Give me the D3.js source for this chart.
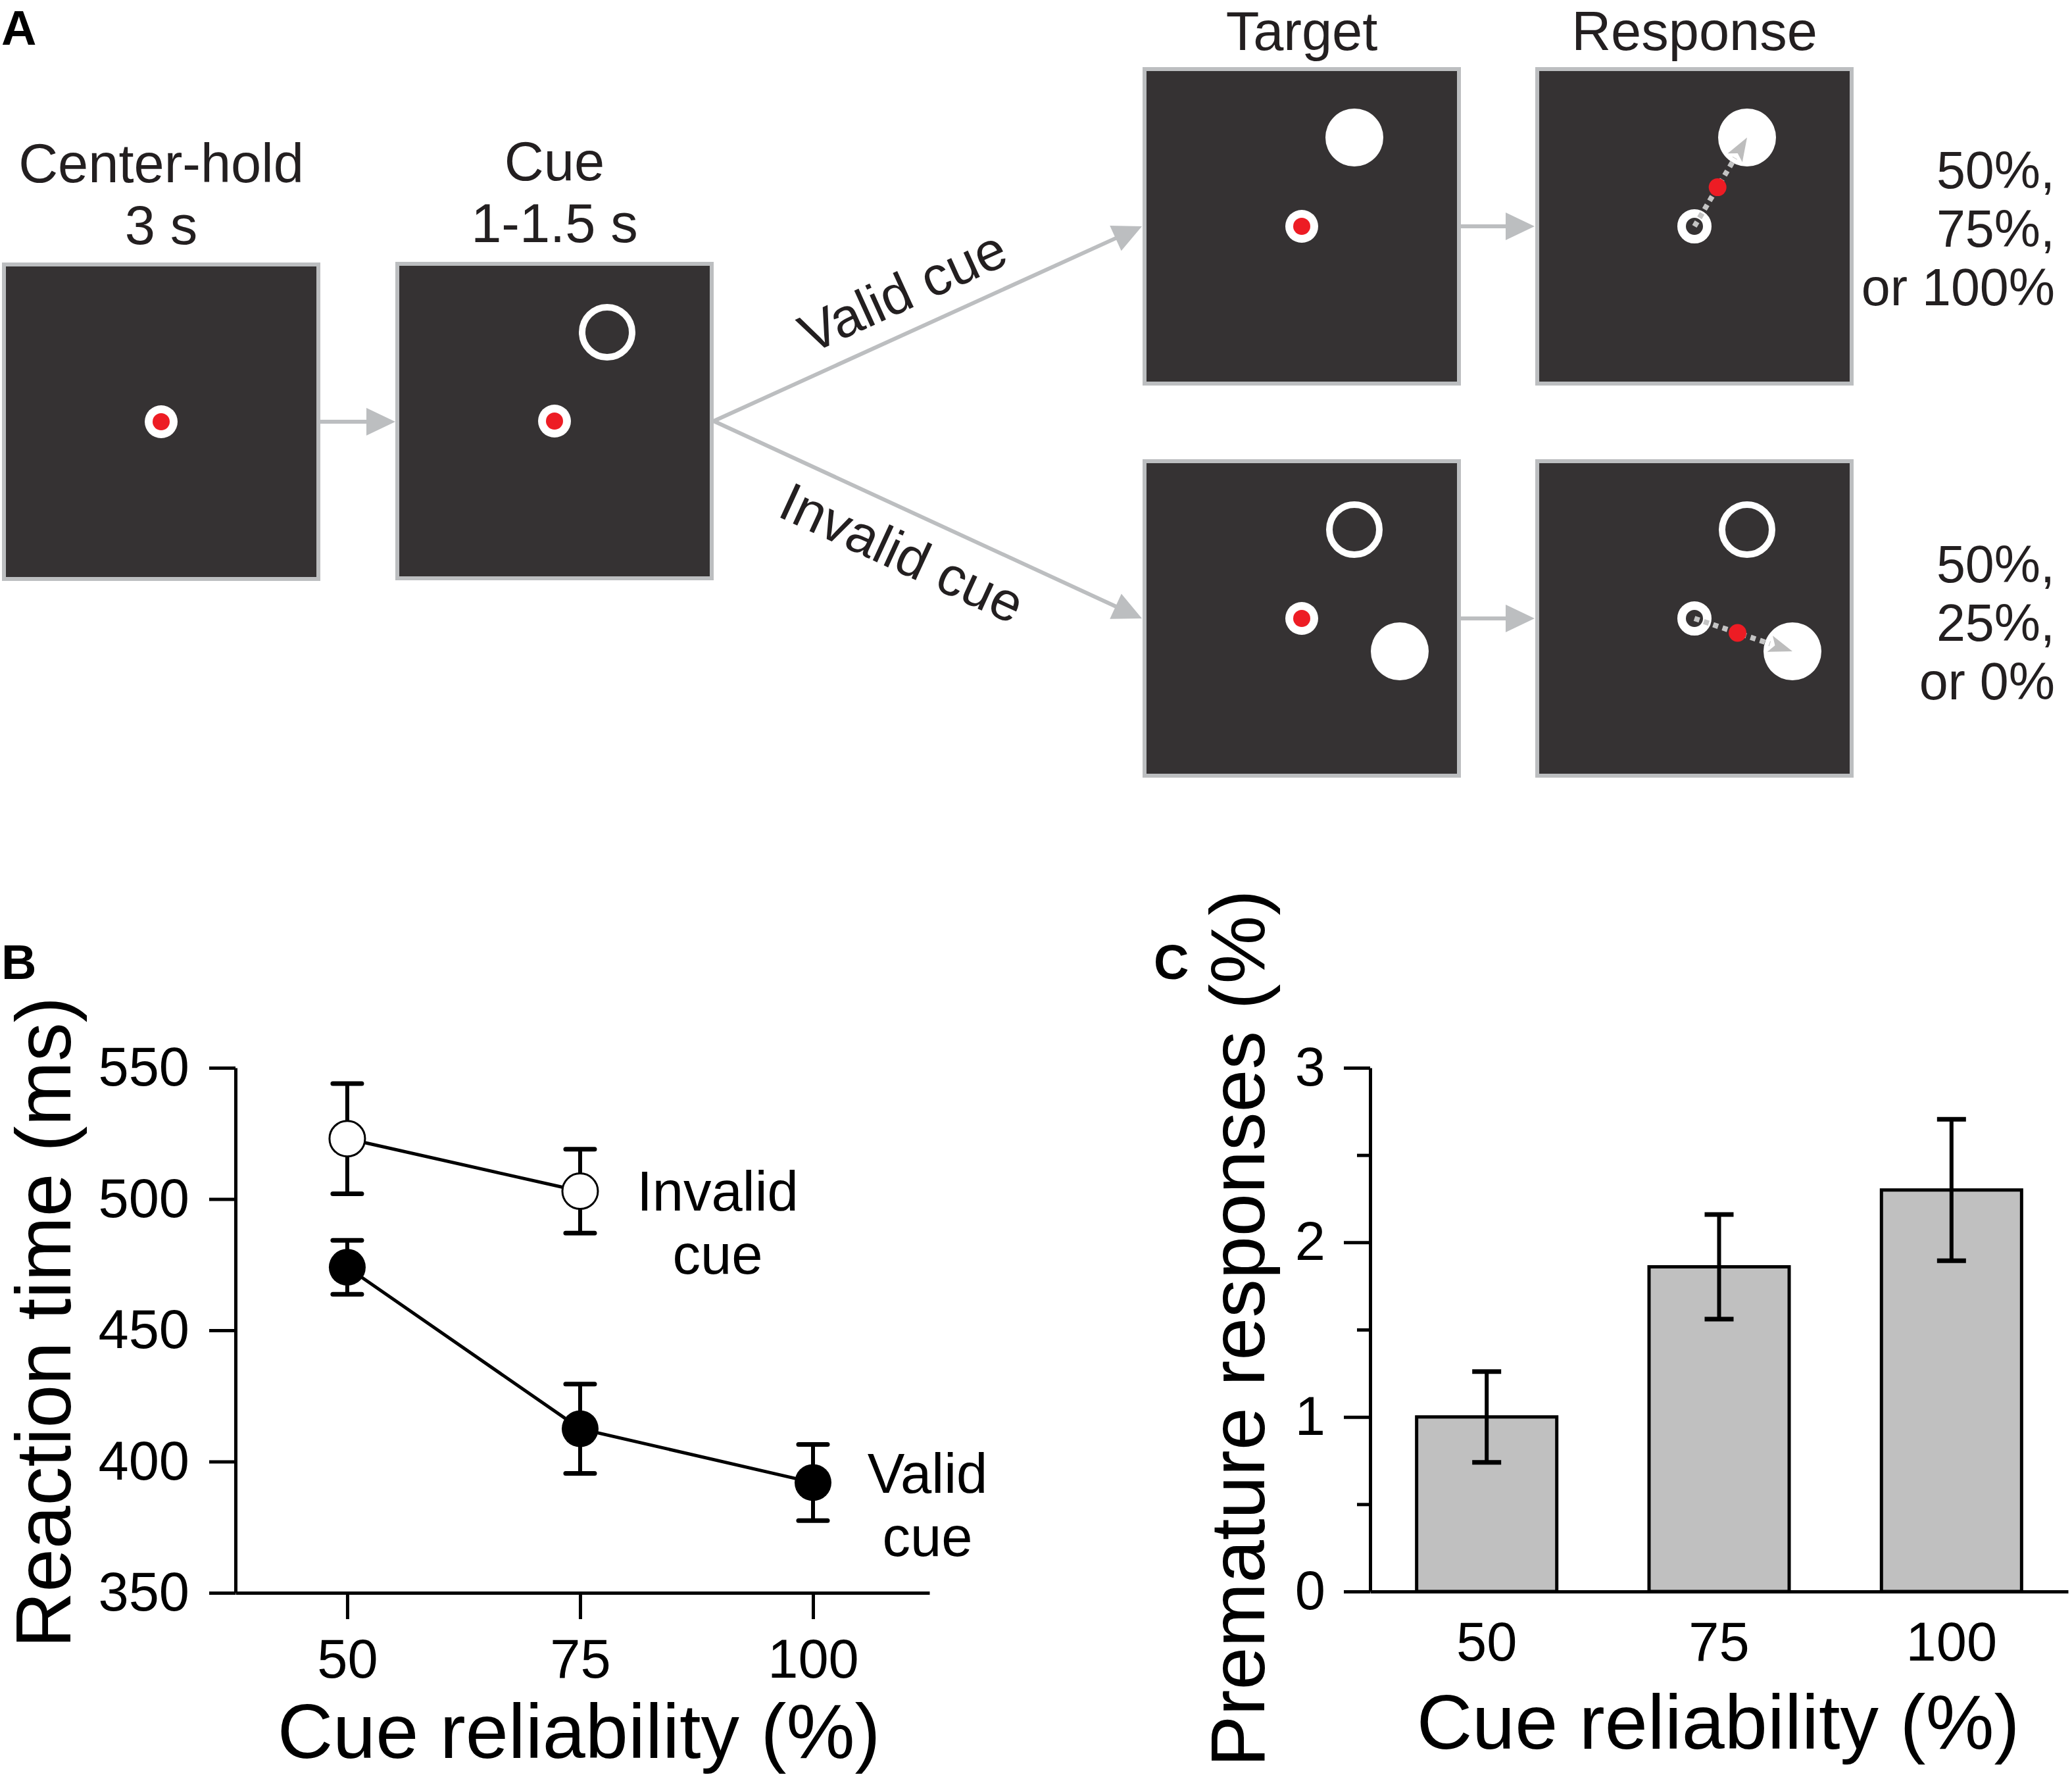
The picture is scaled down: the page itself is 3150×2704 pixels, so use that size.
<!DOCTYPE html>
<html>
<head>
<meta charset="utf-8">
<script src="https://cdn.jsdelivr.net/npm/d3@7"></script>
<style>
html,body{margin:0;padding:0;background:#fff;}
svg{display:block;}
</style>
</head>
<body>
<svg id="fig" width="3150" height="2704"></svg>
<script>
// ---------------- DATA ----------------
const reliability = [50, 75, 100];
const invalidRT = [523, 503];          // ms, invalid cue (50, 75)
const invalidErr = [21, 16];
const validRT = [474, 412.5, 392];     // ms, valid cue (50, 75, 100)
const validErr = [10.3, 17, 14.5];
const rtTicks = [350, 400, 450, 500, 550];
const prematureCats = ["50", "75", "100"];
const premature = [1.0, 1.86, 2.30];   // %
const prematureErr = [0.26, 0.30, 0.405];
const premTicks = [0, 1, 2, 3];
const premMinorTicks = [0.5, 1.5, 2.5];
const topProbs = ["50%,", "75%,", "or 100%"];
const botProbs = ["50%,", "25%,", "or 0%"];

// ---------------- STYLE ----------------
const FONT = "'Liberation Sans', Arial, Helvetica, sans-serif";
const TXT = "#231f20";
const SCREEN = "#353233";
const FRAME = "#bcbec0";
const RED = "#ed1c24";

const svg = d3.select("#fig");
svg.append("rect").attr("width", 3150).attr("height", 2704).attr("fill", "#fff");

// panel letters
[["A", 2, 68], ["B", 2, 1488], ["C", 1754, 1488]].forEach(([t, x, y]) => {
  svg.append("text").attr("x", x).attr("y", y).text(t)
    .attr("font-family", FONT).attr("font-weight", "bold").attr("font-size", 74).attr("fill", "#000");
});

// ================= PANEL A (task schematic) =================
const A = svg.append("g");
const S = 478;
const screens = [
  {id: "hold", x: 6, y: 402},
  {id: "cue", x: 604, y: 401},
  {id: "tv", x: 1740, y: 105},
  {id: "rv", x: 2337, y: 105},
  {id: "ti", x: 1740, y: 701},
  {id: "ri", x: 2337, y: 701}
];
const sc = {};
screens.forEach(s => { s.cx = s.x + S / 2; s.cy = s.y + S / 2; sc[s.id] = s; });

A.selectAll("rect.screen").data(screens).join("rect")
  .attr("x", d => d.x).attr("y", d => d.y).attr("width", S).attr("height", S)
  .attr("fill", SCREEN).attr("stroke", FRAME).attr("stroke-width", 6);

const cueOff = [80, -135];
const invOff = [149, 50];

function fixation(s) {
  A.append("circle").attr("cx", s.cx).attr("cy", s.cy).attr("r", 25).attr("fill", "#fff");
  A.append("circle").attr("cx", s.cx).attr("cy", s.cy).attr("r", 13).attr("fill", RED);
}
function ring(s, off) {
  A.append("circle").attr("cx", s.cx + off[0]).attr("cy", s.cy + off[1]).attr("r", 38)
    .attr("fill", "none").attr("stroke", "#fff").attr("stroke-width", 10);
}
function disk(s, off) {
  A.append("circle").attr("cx", s.cx + off[0]).attr("cy", s.cy + off[1]).attr("r", 44).attr("fill", "#fff");
}
function responseMove(s, off) {
  // empty fixation ring
  A.append("circle").attr("cx", s.cx).attr("cy", s.cy).attr("r", 19.5)
    .attr("fill", "none").attr("stroke", "#fff").attr("stroke-width", 13);
  const tx = s.cx + off[0], ty = s.cy + off[1];
  const ang = Math.atan2(off[1], off[0]);
  const ux = Math.cos(ang), uy = Math.sin(ang);
  const head = 36;
  A.append("line").attr("x1", s.cx).attr("y1", s.cy)
    .attr("x2", tx - ux * head).attr("y2", ty - uy * head)
    .attr("stroke", "#c4c4c4").attr("stroke-width", 8).attr("stroke-dasharray", "8 7");
  const bx = tx - ux * head, by = ty - uy * head, w = 13;
  A.append("path").attr("d", `M${tx},${ty}L${bx - uy * w},${by + ux * w}L${bx + ux * 8},${by + uy * 8}L${bx + uy * w},${by - ux * w}Z`)
    .attr("fill", "#bdbdbd");
  const t = 0.44;
  A.append("circle").attr("cx", s.cx + off[0] * t).attr("cy", s.cy + off[1] * t).attr("r", 13.5).attr("fill", RED);
}

fixation(sc.hold);
fixation(sc.cue); ring(sc.cue, cueOff);
fixation(sc.tv); disk(sc.tv, cueOff);
disk(sc.rv, cueOff); responseMove(sc.rv, cueOff);
fixation(sc.ti); ring(sc.ti, cueOff); disk(sc.ti, invOff);
ring(sc.ri, cueOff); disk(sc.ri, invOff); responseMove(sc.ri, invOff);

// arrows
function arrow(x1, y1, x2, y2) {
  const ang = Math.atan2(y2 - y1, x2 - x1);
  const ux = Math.cos(ang), uy = Math.sin(ang);
  const head = 44, w = 21;
  const bx = x2 - ux * head, by = y2 - uy * head;
  A.append("line").attr("x1", x1).attr("y1", y1).attr("x2", bx + ux * 2).attr("y2", by + uy * 2)
    .attr("stroke", FRAME).attr("stroke-width", 6);
  A.append("path").attr("d", `M${x2},${y2}L${bx - uy * w},${by + ux * w}L${bx + uy * w},${by - ux * w}Z`)
    .attr("fill", FRAME);
}
arrow(sc.hold.x + S + 3, sc.hold.cy, sc.cue.x - 3, sc.hold.cy);
arrow(sc.tv.x + S + 3, sc.tv.cy, sc.rv.x - 4, sc.tv.cy);
arrow(sc.ti.x + S + 3, sc.ti.cy, sc.ri.x - 4, sc.ti.cy);
const ox = sc.cue.x + S + 3, oy = sc.cue.cy;
arrow(ox, oy, sc.tv.x - 4, sc.tv.cy);
arrow(ox, oy, sc.ti.x - 4, sc.ti.cy);

// label along a branch: t = fraction along line, off = distance above (+) / below (-) the line
function branchLabel(text, x2, y2, t, off) {
  const dx = x2 - ox, dy = y2 - oy, L = Math.hypot(dx, dy);
  const ux = dx / L, uy = dy / L;
  const upx = uy, upy = -ux;   // text-frame "up" direction
  const px = ox + dx * t + upx * off, py = oy + dy * t + upy * off;
  const ang = Math.atan2(dy, dx) * 180 / Math.PI;
  A.append("text").attr("transform", `translate(${px},${py}) rotate(${ang})`)
    .attr("text-anchor", "middle").attr("font-family", FONT).attr("font-size", 83).attr("fill", TXT)
    .text(text);
}
branchLabel("Valid cue", sc.tv.x - 4, sc.tv.cy, 0.48, 32);
branchLabel("Invalid cue", sc.ti.x - 4, sc.ti.cy, 0.48, -91);

// titles
function titleLines(lines, cx, y0, dy) {
  lines.forEach((l, i) => {
    A.append("text").attr("x", cx).attr("y", y0 + i * dy).attr("text-anchor", "middle")
      .attr("font-family", FONT).attr("font-size", 83).attr("fill", TXT).text(l);
  });
}
titleLines(["Center-hold", "3 s"], sc.hold.cx, 277, 94);
titleLines(["Cue", "1-1.5 s"], sc.cue.cx, 274, 94);
titleLines(["Target"], sc.tv.cx, 76, 0);
titleLines(["Response"], sc.rv.cx, 76, 0);

function probLines(lines, y0) {
  lines.forEach((l, i) => {
    A.append("text").attr("x", 3124).attr("y", y0 + i * 89).attr("text-anchor", "end")
      .attr("font-family", FONT).attr("font-size", 79).attr("fill", TXT).text(l);
  });
}
probLines(topProbs, 286);
probLines(botProbs, 885);

// ================= PANEL B (reaction time) =================
const B = svg.append("g");
const xB = d3.scaleLinear().domain([38, 112.5]).range([358, 1413]);
const yB = d3.scaleLinear().domain([350, 550]).range([2421, 1623]);

function styleAxis(g) {
  g.selectAll("path.domain").attr("stroke", "#000").attr("stroke-width", 5);
  g.selectAll(".tick line").attr("stroke", "#000").attr("stroke-width", 5);
  g.selectAll(".tick text").attr("font-family", FONT).attr("font-size", 83).attr("fill", "#000");
}
const gyB = B.append("g").attr("transform", `translate(${xB.range()[0]},0)`)
  .call(d3.axisLeft(yB).tickValues(rtTicks).tickSize(40).tickSizeOuter(0).tickPadding(30).tickFormat(d3.format("d")));
styleAxis(gyB);
const gxB = B.append("g").attr("transform", `translate(0,${yB.range()[0]})`)
  .call(d3.axisBottom(xB).tickValues(reliability).tickSize(40).tickSizeOuter(0).tickPadding(30).tickFormat(d3.format("d")));
styleAxis(gxB);

const invalidPts = invalidRT.map((v, i) => ({x: reliability[i], y: v, e: invalidErr[i]}));
const validPts = validRT.map((v, i) => ({x: reliability[i], y: v, e: validErr[i]}));
const lineGen = d3.line().x(d => xB(d.x)).y(d => yB(d.y));

[invalidPts, validPts].forEach(pts => {
  B.append("path").datum(pts).attr("d", lineGen).attr("fill", "none").attr("stroke", "#000").attr("stroke-width", 5);
  const eb = B.append("g");
  pts.forEach(d => {
    const x = xB(d.x);
    eb.append("line").attr("x1", x).attr("x2", x).attr("y1", yB(d.y + d.e)).attr("y2", yB(d.y - d.e))
      .attr("stroke", "#000").attr("stroke-width", 6);
    [d.y + d.e, d.y - d.e].forEach(v => eb.append("line").attr("x1", x - 22).attr("x2", x + 22)
      .attr("y1", yB(v)).attr("y2", yB(v)).attr("stroke", "#000").attr("stroke-width", 7).attr("stroke-linecap", "round"));
  });
});
B.selectAll("circle.inv").data(invalidPts).join("circle").attr("class", "inv")
  .attr("cx", d => xB(d.x)).attr("cy", d => yB(d.y)).attr("r", 27)
  .attr("fill", "#fff").attr("stroke", "#000").attr("stroke-width", 3);
B.selectAll("circle.val").data(validPts).join("circle").attr("class", "val")
  .attr("cx", d => xB(d.x)).attr("cy", d => yB(d.y)).attr("r", 28)
  .attr("fill", "#000");

function bLabel(lines, cx, y0) {
  lines.forEach((l, i) => B.append("text").attr("x", cx).attr("y", y0 + i * 96).attr("text-anchor", "middle")
    .attr("font-family", FONT).attr("font-size", 85).attr("fill", "#000").text(l));
}
bLabel(["Invalid", "cue"], 1091, 1840);
bLabel(["Valid", "cue"], 1410, 2269);

B.append("text").attr("x", 880).attr("y", 2672).attr("text-anchor", "middle")
  .attr("font-family", FONT).attr("font-size", 117).attr("fill", "#000").text("Cue reliability (%)");
B.append("text").attr("transform", "translate(107,2010) rotate(-90)").attr("text-anchor", "middle")
  .attr("font-family", FONT).attr("font-size", 118).attr("fill", "#000").text("Reaction time (ms)");

// ================= PANEL C (premature responses) =================
const C = svg.append("g");
const xC = d3.scaleBand().domain(prematureCats).range([2083, 3144]).paddingInner(0.397).paddingOuter(0.2);
const yC = d3.scaleLinear().domain([0, 3]).range([2419, 1623]);

const premData = prematureCats.map((c, i) => ({c, v: premature[i], e: prematureErr[i]}));
C.selectAll("rect.bar").data(premData).join("rect").attr("class", "bar")
  .attr("x", d => xC(d.c)).attr("width", xC.bandwidth())
  .attr("y", d => yC(d.v)).attr("height", d => yC(0) - yC(d.v))
  .attr("fill", "#c0c0c0").attr("stroke", "#000").attr("stroke-width", 5);

premData.forEach(d => {
  const x = xC(d.c) + xC.bandwidth() / 2;
  C.append("line").attr("x1", x).attr("x2", x).attr("y1", yC(d.v + d.e)).attr("y2", yC(d.v - d.e))
    .attr("stroke", "#000").attr("stroke-width", 6);
  [d.v + d.e, d.v - d.e].forEach(v => C.append("line").attr("x1", x - 22).attr("x2", x + 22)
    .attr("y1", yC(v)).attr("y2", yC(v)).attr("stroke", "#000").attr("stroke-width", 7));
});

const gyC = C.append("g").attr("transform", `translate(2083,0)`)
  .call(d3.axisLeft(yC).tickValues(premTicks).tickSize(40).tickSizeOuter(0).tickPadding(28).tickFormat(d3.format("d")));
styleAxis(gyC);
const gyCm = C.append("g").attr("transform", `translate(2083,0)`)
  .call(d3.axisLeft(yC).tickValues(premMinorTicks).tickSize(20).tickSizeOuter(0).tickFormat(""));
gyCm.select("path.domain").remove();
styleAxis(gyCm);
const gxC = C.append("g").attr("transform", `translate(0,${yC(0)})`)
  .call(d3.axisBottom(xC).tickSize(0).tickSizeOuter(0).tickPadding(46));
styleAxis(gxC);

C.append("text").attr("x", 2612).attr("y", 2658).attr("text-anchor", "middle")
  .attr("font-family", FONT).attr("font-size", 117).attr("fill", "#000").text("Cue reliability (%)");
C.append("text").attr("transform", "translate(1922,2019) rotate(-90)").attr("text-anchor", "middle")
  .attr("font-family", FONT).attr("font-size", 117).attr("fill", "#000").text("Premature responses (%)");
</script>
</body>
</html>
